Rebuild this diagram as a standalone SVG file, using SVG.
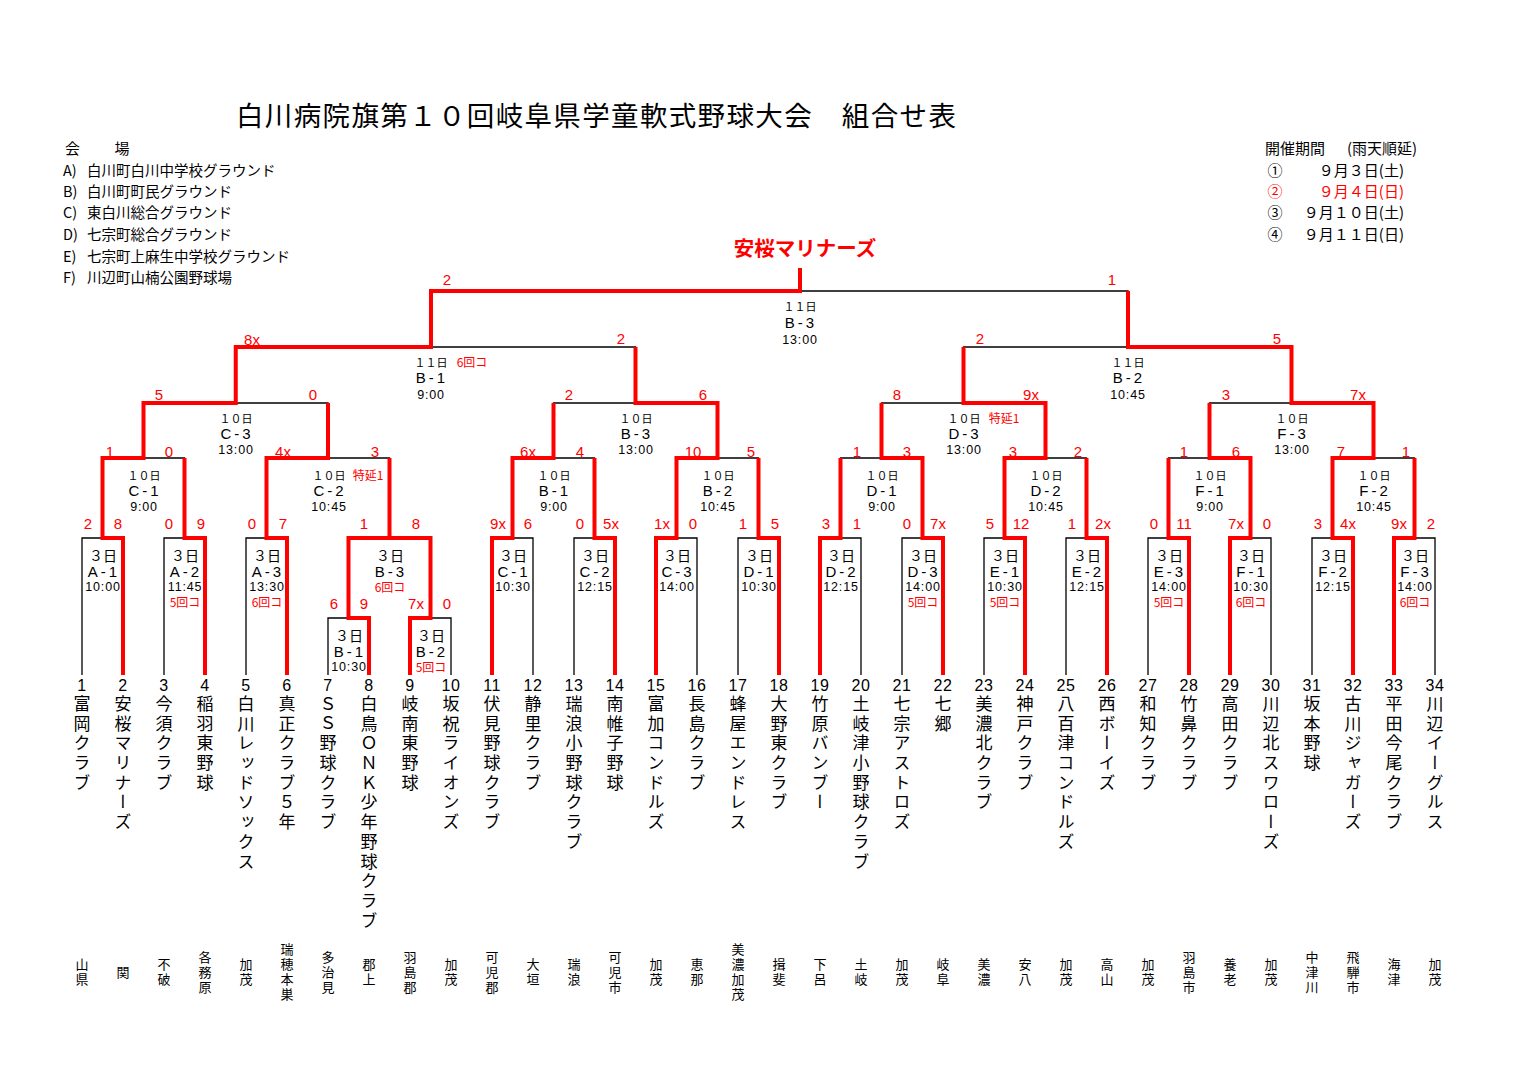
<svg xmlns="http://www.w3.org/2000/svg" width="1519" height="1075" viewBox="0 0 1519 1075">
<style>
text{font-family:"Noto Sans CJK JP","Liberation Sans",sans-serif;fill:#000}
.k{fill:none;stroke:#000;stroke-width:1.3}
.r{fill:none;stroke:#f00;stroke-width:4;stroke-linejoin:miter}
.title{font-size:27.5px;letter-spacing:1.35px}
.hd{font-size:15px}
.ven{font-size:14.5px}
.red{fill:#f00}
.champ{font-size:20.5px;font-weight:bold;fill:#f00;text-anchor:middle}
.sc{font-family:"Liberation Sans",sans-serif;font-size:15px;fill:#f00;text-anchor:middle}
.d{font-size:11px;text-anchor:middle}
.d3{font-size:14px;text-anchor:middle}
.c{font-family:"Liberation Sans",sans-serif;font-size:15px;letter-spacing:3px;text-anchor:middle}
.t{font-family:"Liberation Sans",sans-serif;font-size:12.5px;letter-spacing:0.8px;text-anchor:middle}
.n{font-size:12px;fill:#f00;text-anchor:middle}
.no{font-family:"Liberation Sans",sans-serif;font-size:16px;letter-spacing:0.5px;text-anchor:middle}
.nm{font-size:17px;letter-spacing:2.7px;writing-mode:vertical-rl;text-orientation:upright}
.rg{font-size:13px;letter-spacing:2px;writing-mode:vertical-rl;text-orientation:upright;text-anchor:middle}
</style>
<rect width="1519" height="1075" fill="#fff"/>

<g id="header">
<text class="title" x="236" y="125.5">白川病院旗第１０回岐阜県学童軟式野球大会　組合せ表</text>
<text class="hd" x="65" y="154" letter-spacing="1.5">会　　場</text>
<text class="ven" x="63" y="175.5">A)<tspan x="87">白川町白川中学校グラウンド</tspan></text>
<text class="ven" x="63" y="196.5">B)<tspan x="87">白川町町民グラウンド</tspan></text>
<text class="ven" x="63" y="218">C)<tspan x="87">東白川総合グラウンド</tspan></text>
<text class="ven" x="63" y="239.5">D)<tspan x="87">七宗町総合グラウンド</tspan></text>
<text class="ven" x="63" y="261.5">E)<tspan x="87">七宗町上麻生中学校グラウンド</tspan></text>
<text class="ven" x="63" y="283">F)<tspan x="87">川辺町山楠公園野球場</tspan></text>
</g>

<g id="schedule">
<text class="hd" x="1265" y="154">開催期間</text>
<text class="hd" x="1347" y="154">(雨天順延)</text>
<text class="hd" x="1275" y="175.5" text-anchor="middle">①</text>
<text class="hd" x="1404" y="175.5" text-anchor="end">９月３日(土)</text>
<text class="hd red" x="1275" y="196.5" text-anchor="middle">②</text>
<text class="hd red" x="1404" y="196.5" text-anchor="end">９月４日(日)</text>
<text class="hd" x="1275" y="218" text-anchor="middle">③</text>
<text class="hd" x="1404" y="218" text-anchor="end">９月１０日(土)</text>
<text class="hd" x="1275" y="239.5" text-anchor="middle">④</text>
<text class="hd" x="1404" y="239.5" text-anchor="end">９月１１日(日)</text>
</g>

<g id="champion"><text class="champ" x="805" y="255.5">安桜マリナーズ</text></g>

<g id="connectors">
<path class="k" d="M82 675V538H123V675M164 675V538H205V675M246 675V538H287V675M328 675V618H369V675M410 675V618H451V675M348.5 618V538H430.5V618M492 675V538H533V675M574 675V538H615V675M656 675V538H697V675M738 675V538H779V675M820 675V538H861V675M902 675V538H943V675M984 675V538H1025V675M1066 675V538H1107V675M1148 675V538H1189V675M1230 675V538H1271V675M1312 675V538H1353V675M1394 675V538H1435V675M102.5 538V458H184.5V538M266.5 538V458H389.5V538M512.5 538V458H594.5V538M676.5 538V458H758.5V538M840.5 538V458H922.5V538M1004.5 538V458H1086.5V538M1168.5 538V458H1250.5V538M1332.5 538V458H1414.5V538M143.5 458V403H328V458M553.5 458V403H717.5V458M881.5 458V403H1045.5V458M1209.5 458V403H1373.5V458M235.75 403V347H635.5V403M963.5 403V347H1291.5V403M431 347V291H1128V347"/>
<path class="r" d="M123 675V538H102.5V458H143.5V403H235.75V347H431V291H800V268"/>
<path class="r" d="M205 675V538H184.5V458"/>
<path class="r" d="M287 675V538H266.5V458H328V403"/>
<path class="r" d="M369 675V618H348.5V538H389.5"/>
<path class="r" d="M410 675V618H430.5V538H389.5V458"/>
<path class="r" d="M492 675V538H512.5V458H553.5V403"/>
<path class="r" d="M615 675V538H594.5V458"/>
<path class="r" d="M656 675V538H676.5V458H717.5V403H635.5V347"/>
<path class="r" d="M779 675V538H758.5V458"/>
<path class="r" d="M820 675V538H840.5V458"/>
<path class="r" d="M943 675V538H922.5V458H881.5V403"/>
<path class="r" d="M1025 675V538H1004.5V458H1045.5V403H963.5V347"/>
<path class="r" d="M1107 675V538H1086.5V458"/>
<path class="r" d="M1189 675V538H1168.5V458"/>
<path class="r" d="M1230 675V538H1250.5V458H1209.5V403"/>
<path class="r" d="M1353 675V538H1332.5V458H1373.5V403H1291.5V347H1128V291"/>
<path class="r" d="M1394 675V538H1414.5V458"/>
</g>

<g id="scores">
<text class="sc" x="447" y="284.5">2</text><text class="sc" x="1112" y="284.5">1</text>
<text class="sc" x="252" y="344.5">8x</text><text class="sc" x="621" y="343.5">2</text><text class="sc" x="980" y="343.5">2</text><text class="sc" x="1277" y="343.5">5</text>
<text class="sc" x="159" y="399.5">5</text><text class="sc" x="313" y="399.5">0</text><text class="sc" x="569" y="399.5">2</text><text class="sc" x="703" y="399.5">6</text><text class="sc" x="897" y="399.5">8</text><text class="sc" x="1031" y="399.5">9x</text><text class="sc" x="1226" y="399.5">3</text><text class="sc" x="1358" y="399.5">7x</text>
<text class="sc" x="110" y="456.5">1</text><text class="sc" x="169" y="456.5">0</text><text class="sc" x="283" y="456.5">4x</text><text class="sc" x="375" y="456.5">3</text><text class="sc" x="528" y="456.5">6x</text><text class="sc" x="580" y="456.5">4</text><text class="sc" x="693" y="456.5">10</text><text class="sc" x="751" y="456.5">5</text><text class="sc" x="857" y="456.5">1</text><text class="sc" x="907" y="456.5">3</text><text class="sc" x="1013" y="456.5">3</text><text class="sc" x="1078" y="456.5">2</text><text class="sc" x="1184" y="456.5">1</text><text class="sc" x="1236" y="456.5">6</text><text class="sc" x="1341" y="456.5">7</text><text class="sc" x="1406" y="456.5">1</text>
<text class="sc" x="88" y="528.5">2</text><text class="sc" x="118" y="528.5">8</text><text class="sc" x="169" y="528.5">0</text><text class="sc" x="201" y="528.5">9</text><text class="sc" x="252" y="528.5">0</text><text class="sc" x="283" y="528.5">7</text><text class="sc" x="364" y="528.5">1</text><text class="sc" x="416" y="528.5">8</text><text class="sc" x="498" y="528.5">9x</text><text class="sc" x="528" y="528.5">6</text><text class="sc" x="580" y="528.5">0</text><text class="sc" x="611" y="528.5">5x</text><text class="sc" x="662" y="528.5">1x</text><text class="sc" x="693" y="528.5">0</text><text class="sc" x="743" y="528.5">1</text><text class="sc" x="775" y="528.5">5</text><text class="sc" x="826" y="528.5">3</text><text class="sc" x="857" y="528.5">1</text><text class="sc" x="907" y="528.5">0</text><text class="sc" x="938" y="528.5">7x</text><text class="sc" x="990" y="528.5">5</text><text class="sc" x="1021" y="528.5">12</text><text class="sc" x="1072" y="528.5">1</text><text class="sc" x="1103" y="528.5">2x</text><text class="sc" x="1154" y="528.5">0</text><text class="sc" x="1184" y="528.5">11</text><text class="sc" x="1236" y="528.5">7x</text><text class="sc" x="1267" y="528.5">0</text><text class="sc" x="1318" y="528.5">3</text><text class="sc" x="1348" y="528.5">4x</text><text class="sc" x="1399" y="528.5">9x</text><text class="sc" x="1431" y="528.5">2</text>
<text class="sc" x="334" y="608.5">6</text><text class="sc" x="364" y="608.5">9</text><text class="sc" x="416" y="608.5">7x</text><text class="sc" x="447" y="608.5">0</text>
</g>

<g id="m-final"><text class="d" x="800" y="311">１１日</text><text class="c" x="801" y="328">B-3</text><text class="t" x="800" y="343.5">13:00</text></g>
<g id="m-semi1"><text class="d" x="431" y="366.5">１１日</text><text class="n" x="472" y="367">6回コ</text><text class="c" x="432" y="383">B-1</text><text class="t" x="431" y="398.5">9:00</text></g>
<g id="m-semi2"><text class="d" x="1128" y="366.5">１１日</text><text class="c" x="1129" y="383">B-2</text><text class="t" x="1128" y="398.5">10:45</text></g>

<g id="m-q-C3"><text class="d" x="236" y="422.5">１０日</text><text class="c" x="237" y="438.5">C-3</text><text class="t" x="236" y="454">13:00</text></g>
<g id="m-q-B3"><text class="d" x="636" y="422.5">１０日</text><text class="c" x="637" y="438.5">B-3</text><text class="t" x="636" y="454">13:00</text></g>
<g id="m-q-D3"><text class="d" x="964" y="422.5">１０日</text><text class="n" x="1004" y="423">特延1</text><text class="c" x="965" y="438.5">D-3</text><text class="t" x="964" y="454">13:00</text></g>
<g id="m-q-F3"><text class="d" x="1292" y="422.5">１０日</text><text class="c" x="1293" y="438.5">F-3</text><text class="t" x="1292" y="454">13:00</text></g>

<g id="m-r2-C1"><text class="d" x="144" y="479.5">１０日</text><text class="c" x="145" y="495.5">C-1</text><text class="t" x="144" y="510.5">9:00</text></g>
<g id="m-r2-C2"><text class="d" x="329" y="479.5">１０日</text><text class="n" x="368" y="480">特延1</text><text class="c" x="330" y="495.5">C-2</text><text class="t" x="329" y="510.5">10:45</text></g>
<g id="m-r2-B1"><text class="d" x="554" y="479.5">１０日</text><text class="c" x="555" y="495.5">B-1</text><text class="t" x="554" y="510.5">9:00</text></g>
<g id="m-r2-B2"><text class="d" x="718" y="479.5">１０日</text><text class="c" x="719" y="495.5">B-2</text><text class="t" x="718" y="510.5">10:45</text></g>
<g id="m-r2-D1"><text class="d" x="882" y="479.5">１０日</text><text class="c" x="883" y="495.5">D-1</text><text class="t" x="882" y="510.5">9:00</text></g>
<g id="m-r2-D2"><text class="d" x="1046" y="479.5">１０日</text><text class="c" x="1047" y="495.5">D-2</text><text class="t" x="1046" y="510.5">10:45</text></g>
<g id="m-r2-F1"><text class="d" x="1210" y="479.5">１０日</text><text class="c" x="1211" y="495.5">F-1</text><text class="t" x="1210" y="510.5">9:00</text></g>
<g id="m-r2-F2"><text class="d" x="1374" y="479.5">１０日</text><text class="c" x="1375" y="495.5">F-2</text><text class="t" x="1374" y="510.5">10:45</text></g>

<g id="m-A1"><text class="d3" x="103" y="560.5">３日</text><text class="c" x="104" y="576.5">A-1</text><text class="t" x="103" y="591">10:00</text></g>
<g id="m-A2"><text class="d3" x="185" y="560.5">３日</text><text class="c" x="186" y="576.5">A-2</text><text class="t" x="185" y="591">11:45</text><text class="n" x="185" y="607">5回コ</text></g>
<g id="m-A3"><text class="d3" x="267" y="560.5">３日</text><text class="c" x="268" y="576.5">A-3</text><text class="t" x="267" y="591">13:30</text><text class="n" x="267" y="607">6回コ</text></g>
<g id="m-B3"><text class="d3" x="390" y="560.5">３日</text><text class="c" x="391" y="576.5">B-3</text><text class="n" x="390" y="592">6回コ</text></g>
<g id="m-B1"><text class="d3" x="349" y="640.5">３日</text><text class="c" x="350" y="656.5">B-1</text><text class="t" x="349" y="671">10:30</text></g>
<g id="m-B2"><text class="d3" x="431" y="640.5">３日</text><text class="c" x="432" y="656.5">B-2</text><text class="n" x="431" y="672">5回コ</text></g>
<g id="m-C1"><text class="d3" x="513" y="560.5">３日</text><text class="c" x="514" y="576.5">C-1</text><text class="t" x="513" y="591">10:30</text></g>
<g id="m-C2"><text class="d3" x="595" y="560.5">３日</text><text class="c" x="596" y="576.5">C-2</text><text class="t" x="595" y="591">12:15</text></g>
<g id="m-C3"><text class="d3" x="677" y="560.5">３日</text><text class="c" x="678" y="576.5">C-3</text><text class="t" x="677" y="591">14:00</text></g>
<g id="m-D1"><text class="d3" x="759" y="560.5">３日</text><text class="c" x="760" y="576.5">D-1</text><text class="t" x="759" y="591">10:30</text></g>
<g id="m-D2"><text class="d3" x="841" y="560.5">３日</text><text class="c" x="842" y="576.5">D-2</text><text class="t" x="841" y="591">12:15</text></g>
<g id="m-D3"><text class="d3" x="923" y="560.5">３日</text><text class="c" x="924" y="576.5">D-3</text><text class="t" x="923" y="591">14:00</text><text class="n" x="923" y="607">5回コ</text></g>
<g id="m-E1"><text class="d3" x="1005" y="560.5">３日</text><text class="c" x="1006" y="576.5">E-1</text><text class="t" x="1005" y="591">10:30</text><text class="n" x="1005" y="607">5回コ</text></g>
<g id="m-E2"><text class="d3" x="1087" y="560.5">３日</text><text class="c" x="1088" y="576.5">E-2</text><text class="t" x="1087" y="591">12:15</text></g>
<g id="m-E3"><text class="d3" x="1169" y="560.5">３日</text><text class="c" x="1170" y="576.5">E-3</text><text class="t" x="1169" y="591">14:00</text><text class="n" x="1169" y="607">5回コ</text></g>
<g id="m-F1"><text class="d3" x="1251" y="560.5">３日</text><text class="c" x="1252" y="576.5">F-1</text><text class="t" x="1251" y="591">10:30</text><text class="n" x="1251" y="607">6回コ</text></g>
<g id="m-F2"><text class="d3" x="1333" y="560.5">３日</text><text class="c" x="1334" y="576.5">F-2</text><text class="t" x="1333" y="591">12:15</text></g>
<g id="m-F3"><text class="d3" x="1415" y="560.5">３日</text><text class="c" x="1416" y="576.5">F-3</text><text class="t" x="1415" y="591">14:00</text><text class="n" x="1415" y="607">6回コ</text></g>

<g id="team-1"><text class="no" x="82" y="691">1</text><text class="nm" x="82" y="695">富岡クラブ</text><text class="rg" x="82" y="973">山県</text></g>
<g id="team-2"><text class="no" x="123" y="691">2</text><text class="nm" x="123" y="695">安桜マリナーズ</text><text class="rg" x="123" y="973">関</text></g>
<g id="team-3"><text class="no" x="164" y="691">3</text><text class="nm" x="164" y="695">今須クラブ</text><text class="rg" x="164" y="973">不破</text></g>
<g id="team-4"><text class="no" x="205" y="691">4</text><text class="nm" x="205" y="695">稲羽東野球</text><text class="rg" x="205" y="973">各務原</text></g>
<g id="team-5"><text class="no" x="246" y="691">5</text><text class="nm" x="246" y="695">白川レッドソックス</text><text class="rg" x="246" y="973">加茂</text></g>
<g id="team-6"><text class="no" x="287" y="691">6</text><text class="nm" x="287" y="695">真正クラブ５年</text><text class="rg" x="287" y="973">瑞穂本巣</text></g>
<g id="team-7"><text class="no" x="328" y="691">7</text><text class="nm" x="328" y="695">ＳＳ野球クラブ</text><text class="rg" x="328" y="973">多治見</text></g>
<g id="team-8"><text class="no" x="369" y="691">8</text><text class="nm" x="369" y="695">白鳥ＯＮＫ少年野球クラブ</text><text class="rg" x="369" y="973">郡上</text></g>
<g id="team-9"><text class="no" x="410" y="691">9</text><text class="nm" x="410" y="695">岐南東野球</text><text class="rg" x="410" y="973">羽島郡</text></g>
<g id="team-10"><text class="no" x="451" y="691">10</text><text class="nm" x="451" y="695">坂祝ライオンズ</text><text class="rg" x="451" y="973">加茂</text></g>
<g id="team-11"><text class="no" x="492" y="691">11</text><text class="nm" x="492" y="695">伏見野球クラブ</text><text class="rg" x="492" y="973">可児郡</text></g>
<g id="team-12"><text class="no" x="533" y="691">12</text><text class="nm" x="533" y="695">静里クラブ</text><text class="rg" x="533" y="973">大垣</text></g>
<g id="team-13"><text class="no" x="574" y="691">13</text><text class="nm" x="574" y="695">瑞浪小野球クラブ</text><text class="rg" x="574" y="973">瑞浪</text></g>
<g id="team-14"><text class="no" x="615" y="691">14</text><text class="nm" x="615" y="695">南帷子野球</text><text class="rg" x="615" y="973">可児市</text></g>
<g id="team-15"><text class="no" x="656" y="691">15</text><text class="nm" x="656" y="695">富加コンドルズ</text><text class="rg" x="656" y="973">加茂</text></g>
<g id="team-16"><text class="no" x="697" y="691">16</text><text class="nm" x="697" y="695">長島クラブ</text><text class="rg" x="697" y="973">恵那</text></g>
<g id="team-17"><text class="no" x="738" y="691">17</text><text class="nm" x="738" y="695">蜂屋エンドレス</text><text class="rg" x="738" y="973">美濃加茂</text></g>
<g id="team-18"><text class="no" x="779" y="691">18</text><text class="nm" x="779" y="695">大野東クラブ</text><text class="rg" x="779" y="973">揖斐</text></g>
<g id="team-19"><text class="no" x="820" y="691">19</text><text class="nm" x="820" y="695">竹原バンブー</text><text class="rg" x="820" y="973">下呂</text></g>
<g id="team-20"><text class="no" x="861" y="691">20</text><text class="nm" x="861" y="695">土岐津小野球クラブ</text><text class="rg" x="861" y="973">土岐</text></g>
<g id="team-21"><text class="no" x="902" y="691">21</text><text class="nm" x="902" y="695">七宗アストロズ</text><text class="rg" x="902" y="973">加茂</text></g>
<g id="team-22"><text class="no" x="943" y="691">22</text><text class="nm" x="943" y="695">七郷</text><text class="rg" x="943" y="973">岐阜</text></g>
<g id="team-23"><text class="no" x="984" y="691">23</text><text class="nm" x="984" y="695">美濃北クラブ</text><text class="rg" x="984" y="973">美濃</text></g>
<g id="team-24"><text class="no" x="1025" y="691">24</text><text class="nm" x="1025" y="695">神戸クラブ</text><text class="rg" x="1025" y="973">安八</text></g>
<g id="team-25"><text class="no" x="1066" y="691">25</text><text class="nm" x="1066" y="695">八百津コンドルズ</text><text class="rg" x="1066" y="973">加茂</text></g>
<g id="team-26"><text class="no" x="1107" y="691">26</text><text class="nm" x="1107" y="695">西ボーイズ</text><text class="rg" x="1107" y="973">高山</text></g>
<g id="team-27"><text class="no" x="1148" y="691">27</text><text class="nm" x="1148" y="695">和知クラブ</text><text class="rg" x="1148" y="973">加茂</text></g>
<g id="team-28"><text class="no" x="1189" y="691">28</text><text class="nm" x="1189" y="695">竹鼻クラブ</text><text class="rg" x="1189" y="973">羽島市</text></g>
<g id="team-29"><text class="no" x="1230" y="691">29</text><text class="nm" x="1230" y="695">高田クラブ</text><text class="rg" x="1230" y="973">養老</text></g>
<g id="team-30"><text class="no" x="1271" y="691">30</text><text class="nm" x="1271" y="695">川辺北スワローズ</text><text class="rg" x="1271" y="973">加茂</text></g>
<g id="team-31"><text class="no" x="1312" y="691">31</text><text class="nm" x="1312" y="695">坂本野球</text><text class="rg" x="1312" y="973">中津川</text></g>
<g id="team-32"><text class="no" x="1353" y="691">32</text><text class="nm" x="1353" y="695">古川ジャガーズ</text><text class="rg" x="1353" y="973">飛騨市</text></g>
<g id="team-33"><text class="no" x="1394" y="691">33</text><text class="nm" x="1394" y="695">平田今尾クラブ</text><text class="rg" x="1394" y="973">海津</text></g>
<g id="team-34"><text class="no" x="1435" y="691">34</text><text class="nm" x="1435" y="695">川辺イーグルス</text><text class="rg" x="1435" y="973">加茂</text></g>
</svg>
